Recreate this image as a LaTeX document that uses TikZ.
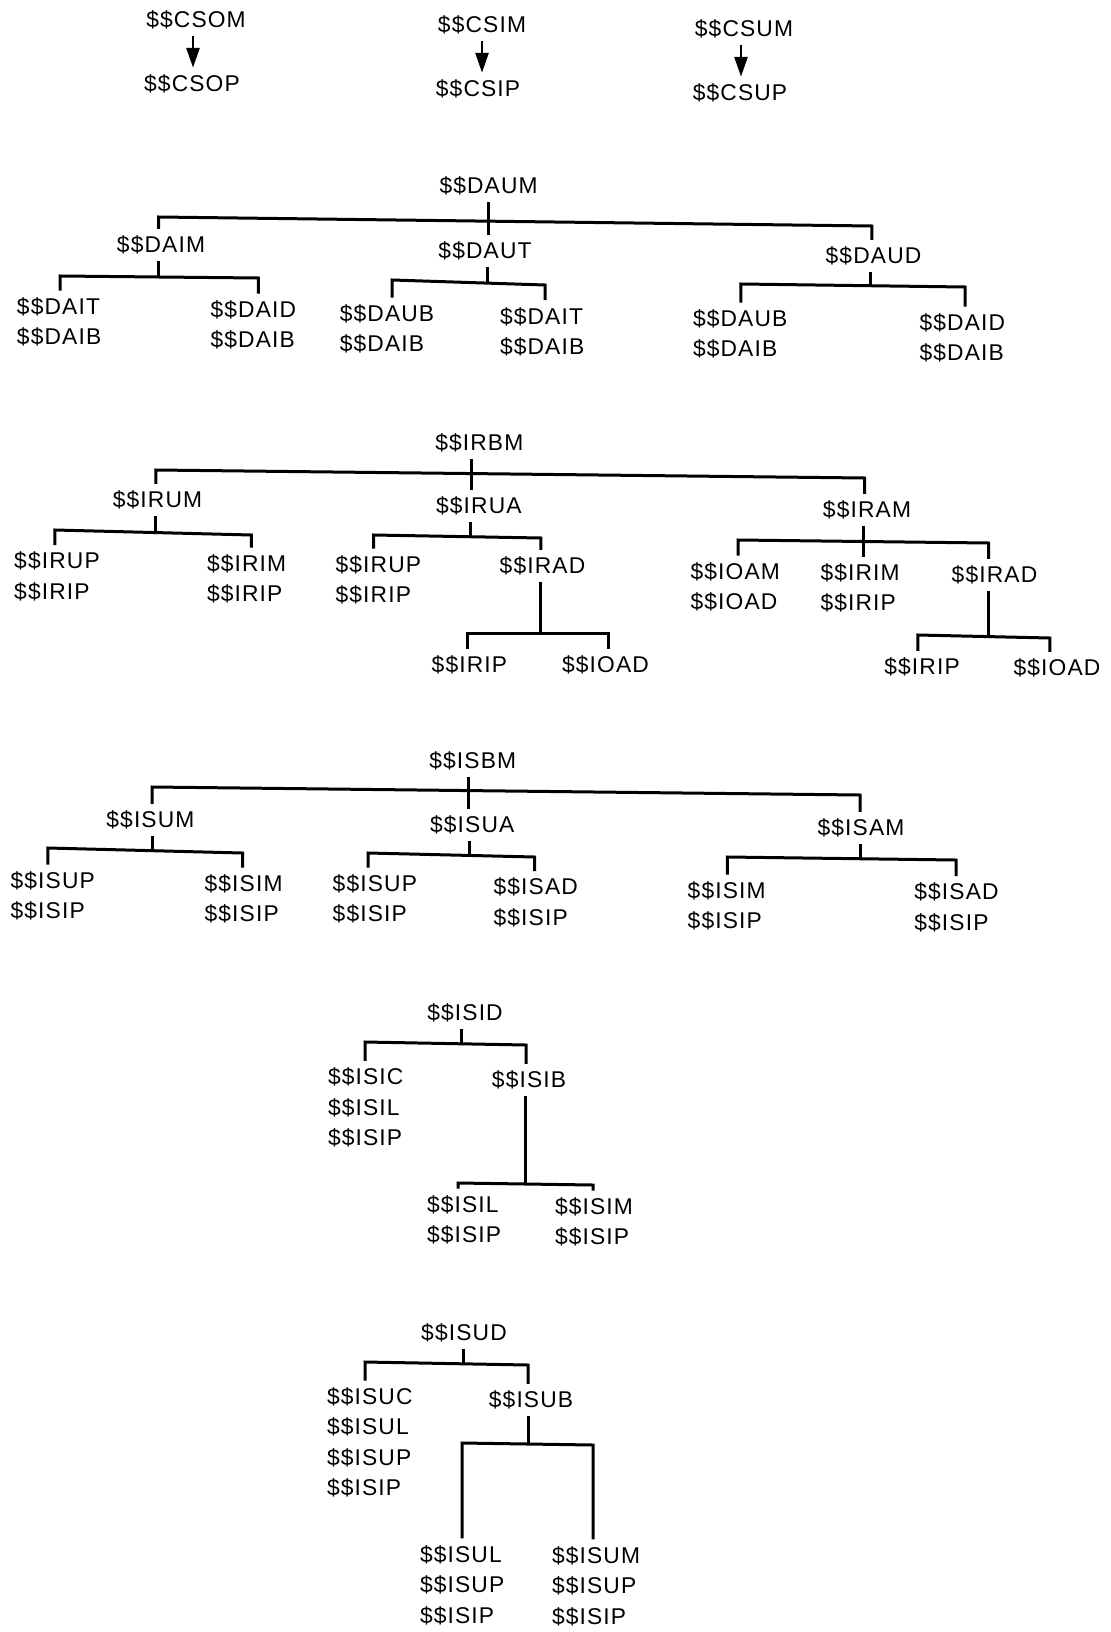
\documentclass[tikz,border=0pt]{standalone}
\usepackage{fontspec}
\setmainfont{Liberation Sans}[LetterSpace=5]
\usetikzlibrary{arrows.meta}
\newcommand\lblfont{\fontsize{11.4pt}{15.25pt}\selectfont}
\begin{document}
\begin{tikzpicture}[x=0.5pt,y=-0.5pt,
  lbl/.style={inner xsep=0pt,inner ysep=3.5pt,outer sep=0pt,font=\lblfont},
  stack/.style={lbl,align=left,anchor=west},
  link/.style={line width=1.5pt,line join=miter},
  arr/.style={line width=1.4pt,-{Triangle[length=10pt,width=6.5pt]}}]
\fill[white] (0,0) rectangle (1110,1632);
\useasboundingbox (0,0) rectangle (1110,1632);

% ---- copy chains ----
\node[lbl] (CSOM) at (196,20) {\$\$CSOM};
\node[lbl] (CSOP) at (192,84) {\$\$CSOP};
\node[lbl] (CSIM) at (482,25) {\$\$CSIM};
\node[lbl] (CSIP) at (478,89) {\$\$CSIP};
\node[lbl] (CSUM) at (744,29) {\$\$CSUM};
\node[lbl] (CSUP) at (740,93) {\$\$CSUP};
\coordinate (aCSO) at (193,0);
\coordinate (aCSI) at (482,0);
\coordinate (aCSU) at (741,0);
\draw[arr] (CSOM.south -| aCSO) -- (CSOP.north -| aCSO);
\draw[arr] (CSIM.south -| aCSI) -- (CSIP.north -| aCSI);
\draw[arr] (CSUM.south -| aCSU) -- (CSUP.north -| aCSU);

% ---- $$DAUM tree ----
\node[lbl] (DAUM) at (488.6,186) {\$\$DAUM};
\node[lbl] (DAIM) at (161,245) {\$\$DAIM};
\node[lbl] (DAUT) at (485,251) {\$\$DAUT};
\node[lbl] (DAUD) at (873.5,256) {\$\$DAUD};
\coordinate (DAUM-s) at (488,221);
\coordinate (DAUM-l) at (158.6,217);
\coordinate (DAUM-r) at (871.8,226);
\draw[link] (DAUM.south -| DAUM-s) -- (DAUT.north -| DAUM-s);
\draw[link] (DAIM.north -| DAUM-l) -- (DAUM-l) -- (DAUM-r) -- (DAUD.north -| DAUM-r);

\node[stack] (DAIT1) at (17,322) {\$\$DAIT\\\$\$DAIB};
\node[stack] (DAID1) at (210.6,325) {\$\$DAID\\\$\$DAIB};
\coordinate (DAIM-s) at (158.2,277);
\coordinate (DAIM-l) at (60.2,276);
\coordinate (DAIM-r) at (258.4,278);
\draw[link] (DAIM.south -| DAIM-s) -- (DAIM-s);
\draw[link] (DAIT1.north -| DAIM-l) -- (DAIM-l) -- (DAIM-r) -- (DAID1.north -| DAIM-r);

\node[stack] (DAUB1) at (339.8,329) {\$\$DAUB\\\$\$DAIB};
\node[stack] (DAIT2) at (500,331.6) {\$\$DAIT\\\$\$DAIB};
\coordinate (DAUT-s) at (487.4,283);
\coordinate (DAUT-l) at (392.2,280);
\coordinate (DAUT-r) at (545,285);
\draw[link] (DAUT.south -| DAUT-s) -- (DAUT-s);
\draw[link] (DAUB1.north -| DAUT-l) -- (DAUT-l) -- (DAUT-r) -- (DAIT2.north -| DAUT-r);

\node[stack] (DAUB2) at (693,334) {\$\$DAUB\\\$\$DAIB};
\node[stack] (DAID2) at (919.6,338) {\$\$DAID\\\$\$DAIB};
\coordinate (DAUD-s) at (870,285.7);
\coordinate (DAUD-l) at (740.8,284);
\coordinate (DAUD-r) at (965,287);
\draw[link] (DAUD.south -| DAUD-s) -- (DAUD-s);
\draw[link] (DAUB2.north -| DAUD-l) -- (DAUD-l) -- (DAUD-r) -- (DAID2.north -| DAUD-r);

% ---- $$IRBM tree ----
\node[lbl] (IRBM) at (479.3,443) {\$\$IRBM};
\node[lbl] (IRUM) at (157.5,500) {\$\$IRUM};
\node[lbl] (IRUA) at (478.8,506) {\$\$IRUA};
\node[lbl] (IRAM) at (867,510) {\$\$IRAM};
\coordinate (IRBM-s) at (471.9,474);
\coordinate (IRBM-l) at (155.8,470);
\coordinate (IRBM-r) at (864.7,478);
\draw[link] (IRBM.south -| IRBM-s) -- (IRUA.north -| IRBM-s);
\draw[link] (IRUM.north -| IRBM-l) -- (IRBM-l) -- (IRBM-r) -- (IRAM.north -| IRBM-r);

\node[stack] (IRUP1) at (14.2,576.5) {\$\$IRUP\\\$\$IRIP};
\node[stack] (IRIM1) at (207,579) {\$\$IRIM\\\$\$IRIP};
\coordinate (IRUM-s) at (155,532);
\coordinate (IRUM-l) at (54.9,530);
\coordinate (IRUM-r) at (251.3,535);
\draw[link] (IRUM.south -| IRUM-s) -- (IRUM-s);
\draw[link] (IRUP1.north -| IRUM-l) -- (IRUM-l) -- (IRUM-r) -- (IRIM1.north -| IRUM-r);

\node[stack] (IRUP2) at (335.6,580) {\$\$IRUP\\\$\$IRIP};
\node[lbl] (IRAD1) at (542.5,566) {\$\$IRAD};
\coordinate (IRUA-s) at (470.8,536.5);
\coordinate (IRUA-l) at (373.5,535);
\coordinate (IRUA-r) at (540.9,538);
\draw[link] (IRUA.south -| IRUA-s) -- (IRUA-s);
\draw[link] (IRUP2.north -| IRUA-l) -- (IRUA-l) -- (IRUA-r) -- (IRAD1.north -| IRUA-r);

\node[lbl] (IRIP1) at (469.4,665) {\$\$IRIP};
\node[lbl] (IOAD1) at (605.5,665) {\$\$IOAD};
\coordinate (IRAD1-s) at (540.5,633);
\coordinate (IRAD1-l) at (467.3,633);
\coordinate (IRAD1-r) at (608,633);
\draw[link] (IRAD1.south -| IRAD1-s) -- (IRAD1-s);
\draw[link] (IRIP1.north -| IRAD1-l) -- (IRAD1-l) -- (IRAD1-r) -- (IOAD1.north -| IRAD1-r);

\node[stack] (IOAM) at (690.6,587) {\$\$IOAM\\\$\$IOAD};
\node[stack] (IRIM2) at (820.5,588) {\$\$IRIM\\\$\$IRIP};
\node[lbl] (IRAD2) at (994.5,575) {\$\$IRAD};
\coordinate (IRAM-s) at (863,541.5);
\coordinate (IRAM-l) at (738,540);
\coordinate (IRAM-r) at (988.6,543);
\draw[link] (IRAM.south -| IRAM-s) -- (IRIM2.north -| IRAM-s);
\draw[link] (IOAM.north -| IRAM-l) -- (IRAM-l) -- (IRAM-r) -- (IRAD2.north -| IRAM-r);

\node[lbl] (IRIP2) at (922,667) {\$\$IRIP};
\node[lbl] (IOAD2) at (1057,668) {\$\$IOAD};
\coordinate (IRAD2-s) at (988.6,636);
\coordinate (IRAD2-l) at (917.8,635);
\coordinate (IRAD2-r) at (1049.9,638);
\draw[link] (IRAD2.south -| IRAD2-s) -- (IRAD2-s);
\draw[link] (IRIP2.north -| IRAD2-l) -- (IRAD2-l) -- (IRAD2-r) -- (IOAD2.north -| IRAD2-r);

% ---- $$ISBM tree ----
\node[lbl] (ISBM) at (472.7,761) {\$\$ISBM};
\node[lbl] (ISUM) at (150.4,820) {\$\$ISUM};
\node[lbl] (ISUA) at (472.2,825) {\$\$ISUA};
\node[lbl] (ISAM) at (861,828) {\$\$ISAM};
\coordinate (ISBM-s) at (468.3,791);
\coordinate (ISBM-l) at (152.2,787);
\coordinate (ISBM-r) at (860,795);
\draw[link] (ISBM.south -| ISBM-s) -- (ISUA.north -| ISBM-s);
\draw[link] (ISUM.north -| ISBM-l) -- (ISBM-l) -- (ISBM-r) -- (ISAM.north -| ISBM-r);

\node[stack] (ISUP1) at (10.6,896) {\$\$ISUP\\\$\$ISIP};
\node[stack] (ISIM1) at (204.6,899) {\$\$ISIM\\\$\$ISIP};
\coordinate (ISUM-s) at (152.2,850);
\coordinate (ISUM-l) at (47.8,848);
\coordinate (ISUM-r) at (242.5,853);
\draw[link] (ISUM.south -| ISUM-s) -- (ISUM-s);
\draw[link] (ISUP1.north -| ISUM-l) -- (ISUM-l) -- (ISUM-r) -- (ISIM1.north -| ISUM-r);

\node[stack] (ISUP2) at (332.7,899) {\$\$ISUP\\\$\$ISIP};
\node[stack] (ISAD1) at (493.6,902.5) {\$\$ISAD\\\$\$ISIP};
\coordinate (ISUA-s) at (469,855);
\coordinate (ISUA-l) at (368.1,853);
\coordinate (ISUA-r) at (534.5,857);
\draw[link] (ISUA.south -| ISUA-s) -- (ISUA-s);
\draw[link] (ISUP2.north -| ISUA-l) -- (ISUA-l) -- (ISUA-r) -- (ISAD1.north -| ISUA-r);

\node[stack] (ISIM2) at (687.7,906) {\$\$ISIM\\\$\$ISIP};
\node[stack] (ISAD2) at (914.3,907.5) {\$\$ISAD\\\$\$ISIP};
\coordinate (ISAM-s) at (860,858.5);
\coordinate (ISAM-l) at (727.4,857);
\coordinate (ISAM-r) at (956,860);
\draw[link] (ISAM.south -| ISAM-s) -- (ISAM-s);
\draw[link] (ISIM2.north -| ISAM-l) -- (ISAM-l) -- (ISAM-r) -- (ISAD2.north -| ISAM-r);

% ---- $$ISID tree ----
\node[lbl] (ISID) at (465,1013) {\$\$ISID};
\node[stack] (ISIC) at (328,1107.5) {\$\$ISIC\\\$\$ISIL\\\$\$ISIP};
\node[lbl] (ISIB) at (529,1080) {\$\$ISIB};
\coordinate (ISID-s) at (461,1044);
\coordinate (ISID-l) at (365,1042);
\coordinate (ISID-r) at (526,1045);
\draw[link] (ISID.south -| ISID-s) -- (ISID-s);
\draw[link] (ISIC.north -| ISID-l) -- (ISID-l) -- (ISID-r) -- (ISIB.north -| ISID-r);

\node[stack] (ISIL) at (427,1220) {\$\$ISIL\\\$\$ISIP};
\node[stack] (ISIM3) at (555,1222) {\$\$ISIM\\\$\$ISIP};
\coordinate (ISIB-s) at (525,1184);
\coordinate (ISIB-l) at (458,1183);
\coordinate (ISIB-r) at (593,1185);
\draw[link] (ISIB.south -| ISIB-s) -- (ISIB-s);
\draw[link] (ISIL.north -| ISIB-l) -- (ISIB-l) -- (ISIB-r) -- (ISIM3.north -| ISIB-r);

% ---- $$ISUD tree ----
\node[lbl] (ISUD) at (464,1333) {\$\$ISUD};
\node[stack] (ISUC) at (327,1442.5) {\$\$ISUC\\\$\$ISUL\\\$\$ISUP\\\$\$ISIP};
\node[lbl] (ISUB) at (531,1400) {\$\$ISUB};
\coordinate (ISUD-s) at (463,1363.5);
\coordinate (ISUD-l) at (365,1362);
\coordinate (ISUD-r) at (528,1365);
\draw[link] (ISUD.south -| ISUD-s) -- (ISUD-s);
\draw[link] (ISUC.north -| ISUD-l) -- (ISUD-l) -- (ISUD-r) -- (ISUB.north -| ISUD-r);

\node[stack] (ISUL) at (420,1585) {\$\$ISUL\\\$\$ISUP\\\$\$ISIP};
\node[stack] (ISUM2) at (552,1586) {\$\$ISUM\\\$\$ISUP\\\$\$ISIP};
\coordinate (ISUB-s) at (528,1444);
\coordinate (ISUB-l) at (462,1443);
\coordinate (ISUB-r) at (593,1445);
\draw[link] (ISUB.south -| ISUB-s) -- (ISUB-s);
\draw[link] (ISUL.north -| ISUB-l) -- (ISUB-l) -- (ISUB-r) -- (ISUM2.north -| ISUB-r);
\end{tikzpicture}
\end{document}
